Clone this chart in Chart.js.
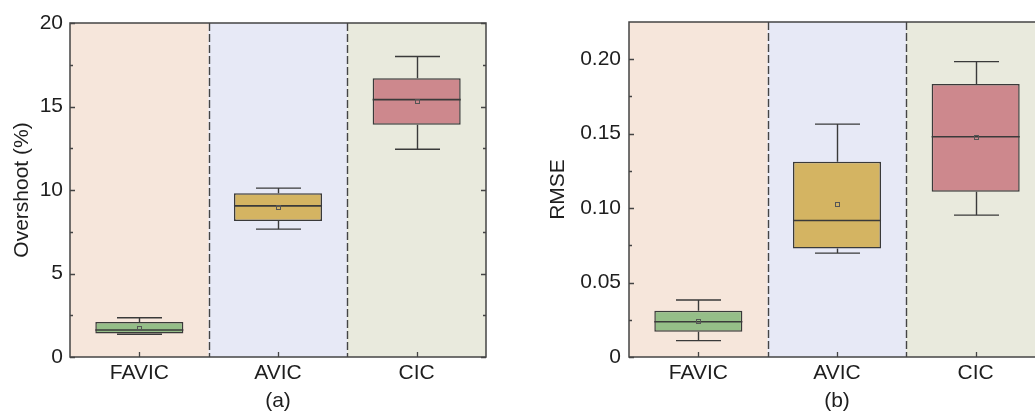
<!DOCTYPE html>
<html>
<head>
<meta charset="utf-8">
<script src="https://cdn.jsdelivr.net/npm/chart.js@4.4.0/dist/chart.umd.min.js"></script>
<style>
  html, body { margin: 0; padding: 0; background: #fff; overflow: hidden; }
  body { width: 1035px; height: 414px; position: relative; }
  canvas { position: absolute; top: 0; }
  #chartA { left: 0; }
  #chartB { left: 515px; }
</style>
</head>
<body>
<canvas id="chartA" width="515" height="414"></canvas>
<canvas id="chartB" width="585" height="414"></canvas>
<script>
// --- Categories ---
const categories = ['FAVIC', 'AVIC', 'CIC'];

// --- (a) Overshoot (%) box statistics ---
const overshootMin    = [1.36, 7.66, 12.44];
const overshootQ1     = [1.40, 8.14, 13.90];
const overshootMedian = [1.62, 9.05, 15.41];
const overshootQ3     = [2.09, 9.81, 16.69];
const overshootMax    = [2.35, 10.11, 17.99];
const overshootMean   = [1.75, 9.01, 15.33];

// --- (b) RMSE box statistics ---
const rmseMin    = [0.0110, 0.0698, 0.0953];
const rmseQ1     = [0.0170, 0.0729, 0.1110];
const rmseMedian = [0.0237, 0.0917, 0.1479];
const rmseQ3     = [0.0311, 0.1311, 0.1834];
const rmseMax    = [0.0383, 0.1564, 0.1984];
const rmseMean   = [0.0244, 0.1025, 0.1477];

// --- Tick values ---
const overshootTicks = [0, 5, 10, 15, 20];
const overshootMinorTicks = [2.5, 7.5, 12.5, 17.5];
const rmseTicks = [0, 0.05, 0.10, 0.15, 0.20];
const rmseMinorTicks = [0.025, 0.075, 0.125, 0.175];

// --- Colours ---
const bandColors = ['#f6e6db', '#e7e9f6', '#e9eadd'];
const boxColors = ['#95be88', '#d4b462', '#cd888d'];
const ink = '#3a3a3a';
const textColor = '#1e1e1e';
const FONT = "'Liberation Sans', Arial, sans-serif";

// --- Plugin: bands, whiskers, medians, means, frame, inward ticks ---
const boxPlotPlugin = {
  id: 'boxPlot',
  beforeDatasetsDraw(chart, args, opts) {
    const { ctx, chartArea: a, scales: { x, y } } = chart;
    ctx.save();
    categories.forEach((c, i) => {
      const l = x.getPixelForValue(i - 0.5);
      const r = x.getPixelForValue(i + 0.5);
      ctx.fillStyle = bandColors[i];
      ctx.fillRect(l, a.top, r - l, a.bottom - a.top);
    });
    // dashed dividers
    ctx.strokeStyle = '#444';
    ctx.lineWidth = 1.4;
    ctx.setLineDash([8, 3]);
    for (let i = 0; i < categories.length - 1; i++) {
      const px = Math.round(x.getPixelForValue(i + 0.5)) + 0.5;
      ctx.beginPath();
      ctx.moveTo(px, a.top);
      ctx.lineTo(px, a.bottom);
      ctx.stroke();
    }
    ctx.setLineDash([]);

    // whiskers (drawn under the boxes)
    ctx.strokeStyle = ink;
    ctx.lineWidth = 1.4;
    categories.forEach((c, i) => {
      const cx = Math.round(x.getPixelForValue(i)) + 0.5;
      const capHalf = 22.5;
      [[opts.min[i], opts.q1[i]], [opts.max[i], opts.q3[i]]].forEach(([end, edge]) => {
        const ye = y.getPixelForValue(end);
        ctx.beginPath();
        ctx.moveTo(cx, y.getPixelForValue(edge));
        ctx.lineTo(cx, ye);
        ctx.moveTo(cx - capHalf, ye);
        ctx.lineTo(cx + capHalf, ye);
        ctx.stroke();
      });
    });
    ctx.restore();
  },
  afterDatasetsDraw(chart, args, opts) {
    const { ctx, scales: { x, y } } = chart;
    const meta = chart.getDatasetMeta(0);
    ctx.save();
    categories.forEach((c, i) => {
      const half = meta.data[i].width / 2;
      const cx = x.getPixelForValue(i);
      // median
      const ym = y.getPixelForValue(opts.median[i]);
      ctx.strokeStyle = ink;
      ctx.lineWidth = 1.6;
      ctx.beginPath();
      ctx.moveTo(cx - half, ym);
      ctx.lineTo(cx + half, ym);
      ctx.stroke();
      // mean marker
      const yMean = y.getPixelForValue(opts.mean[i]);
      ctx.lineWidth = 1;
      ctx.strokeStyle = '#555';
      ctx.strokeRect(Math.round(cx) - 1.5, Math.round(yMean) - 1.5, 4, 4);
    });
    ctx.restore();
  },
  afterDraw(chart, args, opts) {
    const { ctx, chartArea: a, scales: { x, y } } = chart;
    ctx.save();
    ctx.strokeStyle = '#444';
    ctx.lineWidth = 1.5;
    ctx.strokeRect(a.left, a.top, a.right - a.left, a.bottom - a.top);
    ctx.lineWidth = 1.3;
    ctx.beginPath();
    opts.major.forEach(v => {
      const py = Math.round(y.getPixelForValue(v)) + 0.5;
      ctx.moveTo(a.left, py); ctx.lineTo(a.left + 5, py);
      ctx.moveTo(a.right, py); ctx.lineTo(a.right - 5, py);
    });
    opts.minor.forEach(v => {
      const py = Math.round(y.getPixelForValue(v)) + 0.5;
      ctx.moveTo(a.left, py); ctx.lineTo(a.left + 3, py);
      ctx.moveTo(a.right, py); ctx.lineTo(a.right - 3, py);
    });
    categories.forEach((c, i) => {
      const px = Math.round(x.getPixelForValue(i)) + 0.5;
      ctx.moveTo(px, a.bottom); ctx.lineTo(px, a.bottom - 5);
    });
    ctx.stroke();
    ctx.restore();
  }
};

// --- Chart factory ---
function makeBoxChart(id, cfg) {
  const ctx = document.getElementById(id).getContext('2d');
  return new Chart(ctx, {
    type: 'bar',
    data: {
      labels: categories,
      datasets: [{
        data: categories.map((c, i) => [cfg.q1[i], cfg.q3[i]]),
        backgroundColor: boxColors,
        borderColor: ink,
        borderWidth: 1.5,
        borderSkipped: false,
        barPercentage: 0.635,
        categoryPercentage: 1.0
      }]
    },
    options: {
      responsive: false,
      animation: false,
      devicePixelRatio: 1,
      layout: { padding: { left: 0, top: cfg.top, right: cfg.right, bottom: 0 } },
      plugins: {
        legend: { display: false },
        tooltip: { enabled: false },
        boxPlot: cfg
      },
      scales: {
        x: {
          grid: { display: false, drawTicks: false },
          border: { display: false },
          ticks: { color: textColor, padding: 4, font: { family: FONT, size: 21 } },
          title: { display: true, text: cfg.panel, color: textColor, padding: { top: 0, bottom: 0 },
                   font: { family: FONT, size: 21 } },
          afterFit: s => { s.height = 57; }
        },
        y: {
          min: 0,
          max: cfg.yMax,
          afterBuildTicks: s => { s.ticks = cfg.major.map(v => ({ value: v })); },
          grid: { display: false, drawTicks: false },
          border: { display: false },
          ticks: {
            color: textColor, padding: cfg.labelPad, font: { family: FONT, size: 21 },
            callback: v => cfg.fmt(v)
          },
          title: { display: true, text: cfg.title, color: textColor, padding: { top: cfg.titlePad, bottom: 0 },
                   font: { family: FONT, size: 21 } },
          afterFit: s => { s.width = cfg.yWidth; }
        }
      }
    },
    plugins: [boxPlotPlugin]
  });
}

// --- Build both panels ---
makeBoxChart('chartA', {
  panel: '(a)', title: 'Overshoot (%)', yMax: 20,
  min: overshootMin, q1: overshootQ1, median: overshootMedian,
  q3: overshootQ3, max: overshootMax, mean: overshootMean,
  major: overshootTicks, minor: overshootMinorTicks,
  fmt: v => String(v),
  yWidth: 70, top: 23, right: 29, labelPad: 7, titlePad: 10
});

makeBoxChart('chartB', {
  panel: '(b)', title: 'RMSE', yMax: 0.225,
  min: rmseMin, q1: rmseQ1, median: rmseMedian,
  q3: rmseQ3, max: rmseMax, mean: rmseMean,
  major: rmseTicks, minor: rmseMinorTicks,
  fmt: v => (v === 0 ? '0' : v.toFixed(2)),
  yWidth: 114, top: 22, right: 55, labelPad: 8, titlePad: 31
});
</script>
</body>
</html>
